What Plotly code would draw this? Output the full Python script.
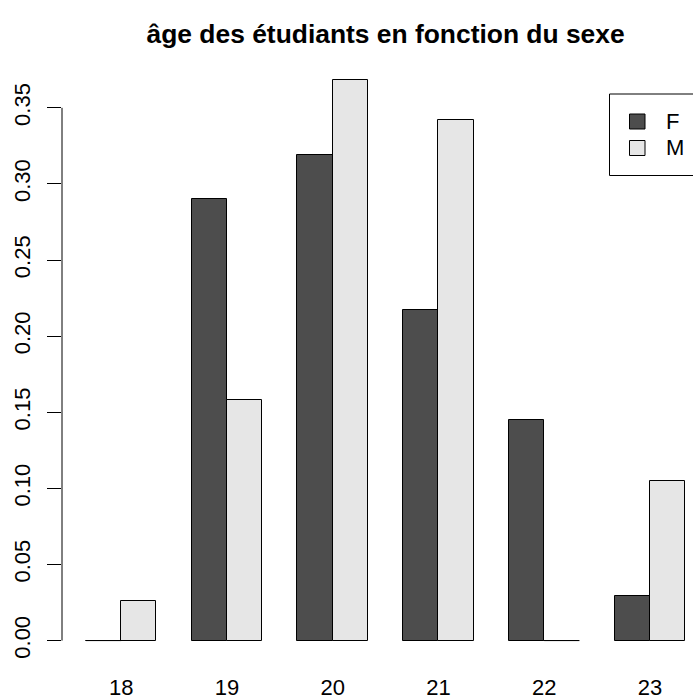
import plotly.graph_objects as go

# Proportion of students of each age, by sex
ages = ["18", "19", "20", "21", "22", "23"]
prop_f = [0.000, 0.290, 0.319, 0.217, 0.145, 0.029]
prop_m = [0.026, 0.158, 0.368, 0.342, 0.000, 0.105]
sexes = ["F", "M"]
colors = {"F": "#4d4d4d", "M": "#e6e6e6"}
y_ticks = [0.00, 0.05, 0.10, 0.15, 0.20, 0.25, 0.30, 0.35]

W, H = 693, 699
L, R, T, B = 62, 0, 58, 36

# grouped layout: each age takes two unit-wide bars plus one unit of space
group_start = [1 + 3 * i for i in range(len(ages))]
x_f = [g + 0.5 for g in group_start]
x_m = [g + 1.5 for g in group_start]
centers = [g + 1.0 for g in group_start]

fig = go.Figure()
for name, xs, vals in (("F", x_f, prop_f), ("M", x_m, prop_m)):
    fig.add_trace(go.Bar(
        x=xs, y=vals, width=1.0, name=name,
        marker=dict(color=colors[name], line=dict(color="black", width=1)),
        showlegend=False,
    ))
    # zero-height bars collapse to a flat outline on the baseline
    zx, zy = [], []
    for x, v in zip(xs, vals):
        if v == 0:
            zx += [x - 0.5, x + 0.5, None]
            zy += [v, v, None]
    if zx:
        fig.add_trace(go.Scatter(x=zx, y=zy, mode="lines",
                                 line=dict(color="black", width=1),
                                 showlegend=False, hoverinfo="skip"))

# x extent: 4% padding on the bar span; the right side runs past the window
span = group_start[-1] + 2 - group_start[0]
x_lo = group_start[0] - 0.04 * span
x_full_hi = group_start[-1] + 2 + 0.04 * span
ymax = max(prop_f + prop_m)
y_lo, y_hi = -0.04 * ymax, ymax * 1.04

plot_w = W - L - R
unit_px = 35.25
x_hi = x_lo + plot_w / unit_px

font = "Liberation Sans, Arial, Helvetica, sans-serif"
base = 22

fig.update_layout(
    width=W, height=H,
    margin=dict(l=L, r=R, t=T, b=B, pad=0, autoexpand=False),
    paper_bgcolor="white", plot_bgcolor="white",
    barmode="overlay", bargap=0,
    font=dict(family=font, size=base, color="black"),
    title=dict(text="<b>âge des étudiants en fonction du sexe</b>",
               x=(L + (x_full_hi - x_lo) * unit_px / 2) / W,
               xanchor="center", y=1 - 34 / H, yanchor="middle",
               font=dict(size=base * 1.2, family=font)),
    xaxis=dict(range=[x_lo, x_hi], showgrid=False, zeroline=False,
               showline=False, ticks="", tickmode="array", automargin=False,
               tickvals=centers, ticktext=ages, ticklabelstandoff=9,
               tickfont=dict(size=base)),
    yaxis=dict(range=[y_lo, y_hi], showgrid=False, zeroline=False,
               showline=False, ticks="outside", ticklen=14, tickwidth=1,
               tickcolor="black", tickmode="array", tickvals=y_ticks,
               automargin=False,
               ticktext=[f"{v:.2f}" for v in y_ticks], tickangle=-90,
               ticklabelstandoff=8, tickfont=dict(size=base)),
)

# y axis line covering only the labelled ticks
fig.add_shape(type="line", xref="paper", yref="y", x0=0, x1=0,
              y0=y_ticks[0], y1=y_ticks[-1], line=dict(color="black", width=1))

# legend box in the top-right corner (its right edge lies outside the window)
def px_x(p):
    return (p - L) / plot_w

def px_y(p):
    return 1 - (p - T) / (H - T - B)

fig.add_shape(type="rect", xref="paper", yref="paper",
              x0=px_x(609.5), x1=px_x(730), y0=px_y(175.5), y1=px_y(94),
              line=dict(color="black", width=1), fillcolor="rgba(0,0,0,0)")
for i, s in enumerate(sexes):
    yc = 121.5 + 26.5 * i
    fig.add_shape(type="rect", xref="paper", yref="paper",
                  x0=px_x(629.5), x1=px_x(645), y0=px_y(yc + 7.5), y1=px_y(yc - 7.5),
                  line=dict(color="black", width=1), fillcolor=colors[s])
    fig.add_annotation(text=s, xref="paper", yref="paper", x=px_x(664),
                       y=px_y(yc), xanchor="left", yanchor="middle",
                       showarrow=False, font=dict(size=base, family=font))

fig.write_html("out.html")
